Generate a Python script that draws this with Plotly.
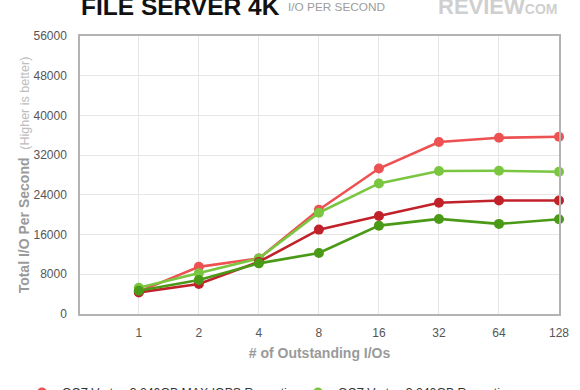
import plotly.graph_objects as go

categories = ["1", "2", "4", "8", "16", "32", "64", "128"]
series_names = [
    "OCZ Vertex 3 240GB MAX IOPS Repeating",
    "OCZ Vertex 3 240GB Repeating",
    "OCZ Vertex 3 240GB MAX IOPS Incompressible",
    "OCZ Vertex 3 240GB Incompressible",
]
max_iops_repeating = [4500, 9500, 11200, 21000, 29300, 34650, 35500, 35700]
repeating = [5300, 8200, 11200, 20400, 26300, 28800, 28850, 28650]
max_iops_incompressible = [4350, 6050, 10500, 17000, 19750, 22400, 22850, 22850]
incompressible = [4700, 6850, 10200, 12300, 17800, 19150, 18150, 19100]
series_values = [max_iops_repeating, repeating, max_iops_incompressible, incompressible]
series_colors = ["#ee5152", "#7bc641", "#c1222a", "#4a9a18"]
y_ticks = [0, 8000, 16000, 24000, 32000, 40000, 48000, 56000]

W, H = 580, 390
PLOT_W, PLOT_H = 479, 278

fig = go.Figure()
for name, vals, col in zip(series_names, series_values, series_colors):
    fig.add_trace(go.Scatter(
        x=categories, y=vals, name=name, mode="lines+markers",
        line=dict(color=col, width=2.6),
        marker=dict(color=col, size=10),
        cliponaxis=False, showlegend=False, legendgroup=name,
    ))
# legend entries show a plain dot, as in the original
for name, col in zip(series_names, series_colors):
    fig.add_trace(go.Scatter(
        x=[None], y=[None], name=name, mode="markers",
        marker=dict(color=col, size=10), legendgroup=name, showlegend=True,
    ))

fig.update_layout(
    width=W, height=H,
    margin=dict(l=80, r=21, t=36, b=76, autoexpand=False),
    paper_bgcolor="white", plot_bgcolor="white",
    font=dict(family="Liberation Sans, Arial, sans-serif", color="#555"),
    showlegend=True,
    legend=dict(
        orientation="h", xref="paper", yref="paper",
        x=(22 - 80) / PLOT_W, y=(314 - 378) / PLOT_H, xanchor="left", yanchor="top",
        font=dict(size=12.3, color="#333"),
        entrywidth=231, entrywidthmode="pixels",
        itemwidth=30, traceorder="normal",
    ),
    xaxis=dict(
        type="category", range=[-0.98, 7],
        showgrid=True, gridcolor="#e6e6e6", gridwidth=1,
        showline=True, linecolor="#b3b3b3", linewidth=1.5, mirror=True,
        ticks="", tickfont=dict(size=12, color="#555"),
        ticklabelstandoff=7,
        title=dict(text="<b># of Outstanding I/Os</b>", font=dict(size=14, color="#9a9a9a"), standoff=9),
        zeroline=False,
    ),
    yaxis=dict(
        range=[0, 56000], tickvals=y_ticks, ticktext=[str(v) for v in y_ticks],
        showgrid=True, gridcolor="#e6e6e6", gridwidth=1,
        showline=True, linecolor="#b3b3b3", linewidth=1.5, mirror=True,
        ticks="", tickfont=dict(size=12, color="#555"),
        ticklabelstandoff=9,
        zeroline=False,
        title=dict(
            text="<b>Total I/O Per Second</b>  <span style='font-size:12.5px;color:#bdbdbd'>(Higher is better)</span>",
            font=dict(size=14, color="#9a9a9a"), standoff=1,
        ),
    ),
    annotations=[
        dict(text="<b>FILE SERVER 4K</b>", xref="paper", yref="paper",
             x=0, y=1 + 29 / PLOT_H, xanchor="left", yanchor="middle", xshift=-1,
             showarrow=False, font=dict(size=24.5, color="#111")),
        dict(text="I/O PER SECOND", xref="paper", yref="paper",
             x=206 / PLOT_W, y=1 + 29 / PLOT_H, xanchor="left", yanchor="middle",
             showarrow=False, font=dict(size=11.8, color="#9c9c9c")),
        dict(text="<b>REVIEW</b><span style='font-size:14px'><b>COM</b></span>",
             xref="paper", yref="paper",
             x=1, y=1 + 29 / PLOT_H, xanchor="right", yanchor="middle",
             showarrow=False, font=dict(size=22, color="#cfcfcf")),
    ],
)

fig.write_html(
    "out.html",
    config={"displayModeBar": False},
    post_script="document.body.style.margin='0';document.body.style.overflow='hidden';",
)
